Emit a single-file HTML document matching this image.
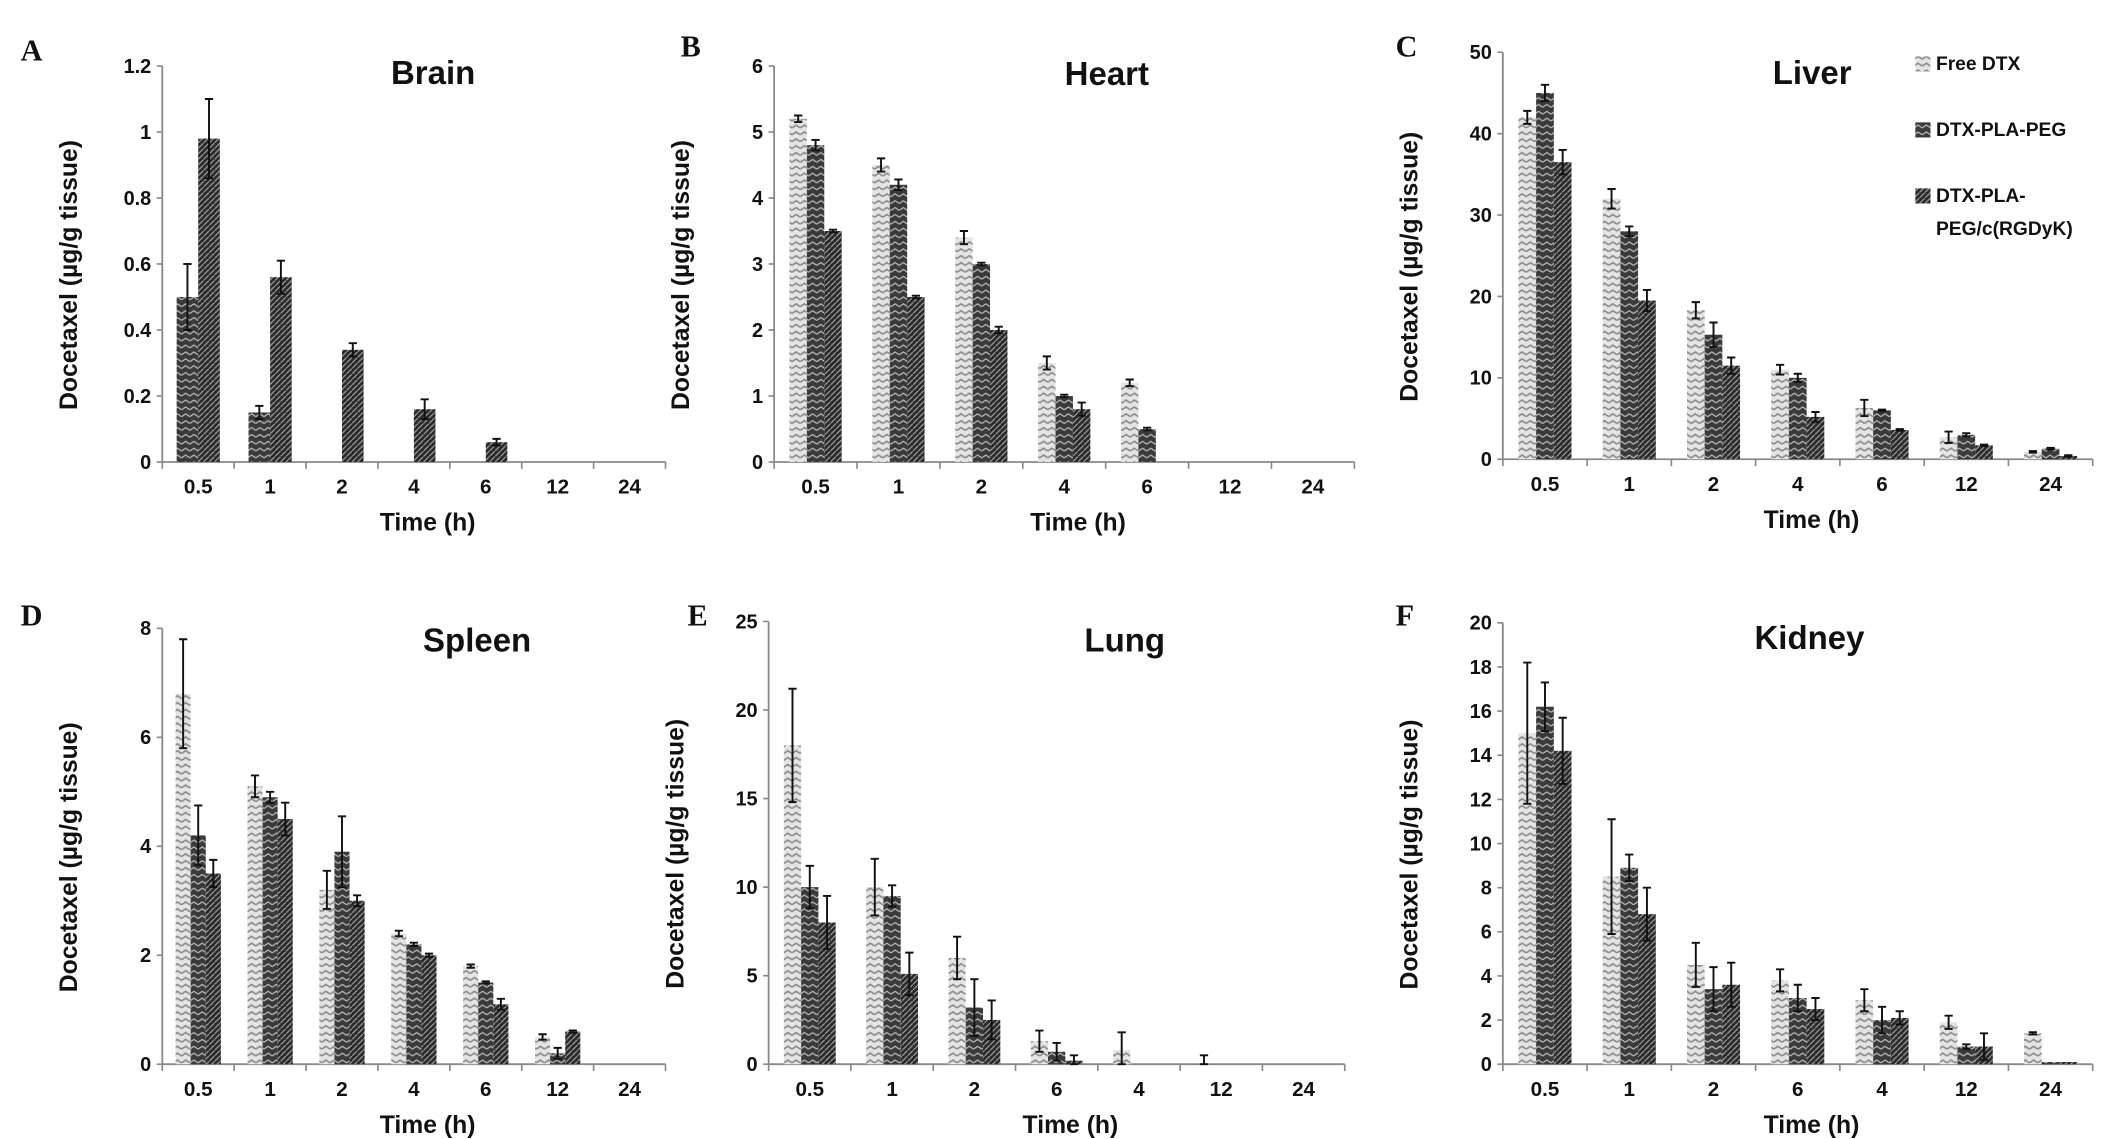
<!DOCTYPE html>
<html><head><meta charset="utf-8"><style>
html,body{margin:0;padding:0;background:#fff}
svg{display:block}
text{font-family:"Liberation Sans",Arial,sans-serif;font-weight:bold;fill:#111}
.letter{font-family:"Liberation Serif",serif;font-size:22px}
</style></head><body>
<svg id="fig" width="2126" height="1139" viewBox="0 0 1546.2 828.4" xmlns="http://www.w3.org/2000/svg">
<defs>
<pattern id="pFree" width="6" height="5" patternUnits="userSpaceOnUse">
<rect width="6" height="5" fill="#e4e4e4"/><path d="M0 3 L3 1 L6 3" stroke="#8a8a8a" stroke-width="1.2" fill="none"/></pattern>
<pattern id="pPeg" width="6" height="5" patternUnits="userSpaceOnUse">
<rect width="6" height="5" fill="#3a3a3a"/><path d="M0 3 L3 1 L6 3" stroke="#bdbdbd" stroke-width="0.9" fill="none"/></pattern>
<pattern id="pRgd" width="4" height="4" patternUnits="userSpaceOnUse">
<rect width="4" height="4" fill="#2a2a2a"/><path d="M0 4 L4 0" stroke="#9a9a9a" stroke-width="0.9"/></pattern>
</defs>
</svg>
<script>
const seriesNames = ["Free DTX","DTX-PLA-PEG","DTX-PLA-PEG/c(RGDyK)"];
const fills = ["url(#pFree)","url(#pPeg)","url(#pRgd)"];
const catsStd = ["0.5","1","2","4","6","12","24"];
const catsSwap = ["0.5","1","2","6","4","12","24"];

const brainPeg = [0.5,0.15,0,0,0,0,0];
const brainRgd = [0.98,0.56,0.34,0.16,0.06,0,0];
const brainErr = [[0.1,0.02,0,0,0,0,0],[0.12,0.05,0.02,0.03,0.01,0,0]];
const brainTicks = [0,0.2,0.4,0.6,0.8,1,1.2];

const heartFree = [5.2,4.5,3.4,1.5,1.2,0,0];
const heartPeg = [4.8,4.2,3.0,1.0,0.5,0,0];
const heartRgd = [3.5,2.5,2.0,0.8,0,0,0];
const heartErr = [[0.05,0.1,0.1,0.1,0.05,0,0],[0.08,0.08,0.02,0.02,0.02,0,0],[0.02,0.02,0.05,0.1,0,0,0]];
const heartTicks = [0,1,2,3,4,5,6];

const liverFree = [42,32,18.3,11,6.3,2.7,0.9];
const liverPeg = [45,28,15.3,10,6,3,1.3];
const liverRgd = [36.5,19.5,11.5,5.2,3.6,1.7,0.4];
const liverErr = [[0.8,1.2,1,0.6,1,0.7,0.1],[1,0.6,1.5,0.5,0.1,0.2,0.1],[1.5,1.3,1,0.6,0.1,0.1,0.1]];
const liverTicks = [0,10,20,30,40,50];

const spleenFree = [6.8,5.1,3.2,2.4,1.8,0.5,0];
const spleenPeg = [4.2,4.9,3.9,2.2,1.5,0.2,0];
const spleenRgd = [3.5,4.5,3.0,2.0,1.1,0.6,0];
const spleenErr = [[1,0.2,0.35,0.05,0.03,0.05,0],[0.55,0.1,0.65,0.03,0.02,0.1,0],[0.25,0.3,0.1,0.03,0.1,0.02,0]];
const spleenTicks = [0,2,4,6,8];

const lungFree = [18,10,6,1.3,0.8,0,0];
const lungPeg = [10,9.5,3.2,0.7,0,0,0];
const lungRgd = [8,5.1,2.5,0.2,0,0,0];
const lungErr = [[3.2,1.6,1.2,0.6,1.0,0.5,0],[1.2,0.6,1.6,0.5,0,0,0],[1.5,1.2,1.1,0.3,0,0,0]];
const lungTicks = [0,5,10,15,20,25];

const kidneyFree = [15,8.5,4.5,3.8,2.9,1.9,1.4];
const kidneyPeg = [16.2,8.9,3.4,3.0,2.0,0.8,0.1];
const kidneyRgd = [14.2,6.8,3.6,2.5,2.1,0.8,0.1];
const kidneyErr = [[3.2,2.6,1,0.5,0.5,0.3,0.05],[1.1,0.6,1,0.6,0.6,0.1,0],[1.5,1.2,1,0.5,0.3,0.6,0]];
const kidneyTicks = [0,2,4,6,8,10,12,14,16,18,20];

const NS="http://www.w3.org/2000/svg";
const svg=document.getElementById('fig');
function mk(tag,attrs,parent){const e=document.createElementNS(NS,tag);for(const k in attrs)e.setAttribute(k,attrs[k]);(parent||svg).appendChild(e);return e;}

function panel(p){
  const g=mk('g',{});
  
  
  const max=p.ticks[p.ticks.length-1];
  const y=v=>p.y0-(v/max)*(p.y0-p.yTop);
  const n=p.cats.length, gw=(p.xEnd-p.x0)/n;
  const xc=i=>p.x0+gw*(i+0.5);
  const ns=p.series.length;
  const bw=gw*p.bwf;
  const ax=mk('line',{x1:p.x0,y1:p.yTop,x2:p.x0,y2:p.y0,stroke:'#888','stroke-width':1.3},g);
  
  
  const xa=mk('line',{x1:p.x0,y1:p.y0,x2:p.xEnd,y2:p.y0,stroke:'#888','stroke-width':1.3},g);
  
  
  p.ticks.forEach(t=>{
    mk('line',{x1:p.x0-4,y1:y(t),x2:p.x0,y2:y(t),stroke:'#888','stroke-width':1.2},g);
    const tl=mk('text',{x:p.x0-8,y:y(t)+5,'text-anchor':'end','font-size':14.5},g);
    tl.textContent=t;
    
    
  });
  for(let i=0;i<=n;i++) mk('line',{x1:p.x0+gw*i,y1:p.y0,x2:p.x0+gw*i,y2:p.y0+5,stroke:'#888','stroke-width':1.2},g);
  p.cats.forEach((c,i)=>{
    const tl=mk('text',{x:xc(i),y:p.y0+23,'text-anchor':'middle','font-size':15},g);
    tl.textContent=c;
    
    
  });
  p.series.forEach((vals,s)=>{
    vals.forEach((v,i)=>{
      if(v<=0 && p.err[s][i]<=0) return;
      const bx=xc(i)-ns/2*bw+s*bw;
      if(v>0){
        const r=mk('rect',{x:bx,y:y(v),width:bw,height:p.y0-y(v),fill:p.fills[s]},g);
        
        
      }
      const e=p.err[s][i];
      if(e>0){
        const cx=bx+bw/2;
        mk('path',{d:`M${cx} ${y(v)} V${y(v+e)} M${cx-3} ${y(v+e)} H${cx+3} M${cx-3} ${y(Math.max(0,v-e))} H${cx+3} M${cx} ${y(v)} V${y(Math.max(0,v-e))}`,stroke:'#111','stroke-width':1.4,fill:'none'},g);
      }
    });
  });
  const t=mk('text',{x:p.tx,y:p.ty,'text-anchor':'middle','font-size':24},g);
  t.textContent=p.title;
  
  
  const xl=mk('text',{x:(p.x0+p.xEnd)/2+10,y:p.y0+50,'text-anchor':'middle','font-size':18},g);
  xl.textContent='Time (h)';
  
  
  const yc=(p.y0+p.yTop)/2+8;
  const yl=mk('text',{x:p.x0-62,y:yc,'text-anchor':'middle','font-size':18,transform:`rotate(-90 ${p.x0-62} ${yc})`},g);
  yl.textContent='Docetaxel (\u00b5g/g tissue)';
  
  
  const L=mk('text',{x:p.lx,y:p.ly,'class':'letter'},g);
  L.textContent=p.letter;
  
  
}

panel({key:'brain',title:'Brain',letter:'A',lx:15,ly:44,x0:118,xEnd:484,yTop:48,y0:336,tx:315,ty:61,ticks:brainTicks,cats:catsStd,series:[brainPeg,brainRgd],fills:[fills[1],fills[2]],bwf:0.3,err:brainErr});
panel({key:'heart',title:'Heart',letter:'B',lx:495,ly:41,x0:563,xEnd:985,yTop:48,y0:336,tx:805,ty:62,ticks:heartTicks,cats:catsStd,series:[heartFree,heartPeg,heartRgd],fills:fills,bwf:0.21,err:heartErr});
panel({key:'liver',title:'Liver',letter:'C',lx:1015,ly:41,x0:1093,xEnd:1522,yTop:38,y0:334,tx:1318,ty:61,ticks:liverTicks,cats:catsStd,series:[liverFree,liverPeg,liverRgd],fills:fills,bwf:0.21,err:liverErr});
panel({key:'spleen',title:'Spleen',letter:'D',lx:15,ly:455,x0:118,xEnd:484,yTop:457,y0:774,tx:347,ty:474,ticks:spleenTicks,cats:catsStd,series:[spleenFree,spleenPeg,spleenRgd],fills:fills,bwf:0.21,err:spleenErr});
panel({key:'lung',title:'Lung',letter:'E',lx:500,ly:455,x0:559,xEnd:978,yTop:452,y0:774,tx:818,ty:474,ticks:lungTicks,cats:catsSwap,series:[lungFree,lungPeg,lungRgd],fills:fills,bwf:0.21,err:lungErr});
panel({key:'kidney',title:'Kidney',letter:'F',lx:1015,ly:455,x0:1093,xEnd:1522,yTop:453,y0:774,tx:1316,ty:472,ticks:kidneyTicks,cats:catsSwap,series:[kidneyFree,kidneyPeg,kidneyRgd],fills:fills,bwf:0.21,err:kidneyErr});

const leg=mk('g',{});


const legY=[51,99,147];
seriesNames.forEach((nm,i)=>{
  mk('rect',{x:1393,y:legY[i]-10,width:11,height:11,fill:fills[i]},leg);
  if(i<2){
    const t=mk('text',{x:1408,y:legY[i],'font-size':14},leg);
    t.textContent=nm;
    
    
  } else {
    const t=mk('text',{x:1408,y:legY[i],'font-size':14},leg);
    t.textContent='DTX-PLA-';
    
    
    const t2=mk('text',{x:1408,y:legY[i]+24,'font-size':14},leg);
    t2.textContent='PEG/c(RGDyK)';
    
    
  }
});
</script>
</body></html>
